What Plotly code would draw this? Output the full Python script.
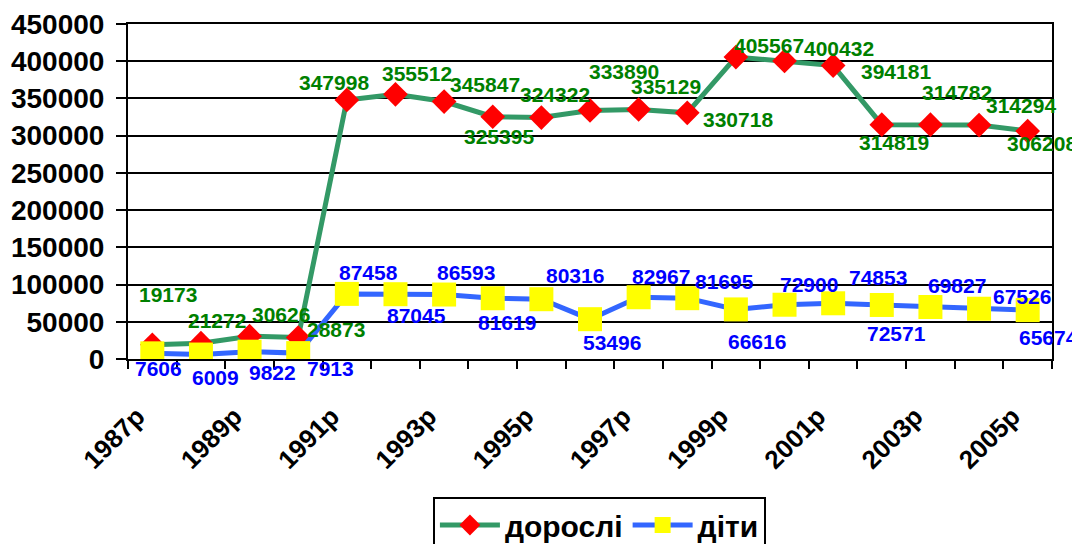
import plotly.graph_objects as go

years = list(range(1987, 2006))
adults = [19173, 21272, 30626, 28873, 347998, 355512, 345847, 325395, 324322, 333890,
          335129, 330718, 405567, 400432, 394181, 314819, 314782, 314294, 306208]
children = [7606, 6009, 9822, 7913, 87458, 87045, 86593, 81619, 80316, 53496,
            82967, 81695, 66616, 72900, 74853, 72571, 69827, 67526, 65674]
tick_years = list(range(1987, 2006, 2))
tick_text = [f"{y}р" for y in tick_years]
name_adults = "дорослі"
name_children = "діти"

# label pixel offsets (dx, dy downwards) relative to each point
adult_off = [(16, -50), (16, -23), (31, -22), (38, -8), (-13, -17), (22, -21), (41, -17),
             (6, 20), (14, -23), (34, -39), (27, -23), (51, 7), (33, -12), (54, -12),
             (63, 6), (12, 18), (27, -32), (42, -20), (14, 12)]
child_off = [(6, 15), (15, 23), (23, 21), (32, 15), (22, -21), (21, 21), (22, -22),
             (14, 24), (34, -24), (22, 23), (22, -21), (37, -17), (21, 32), (24, -20),
             (45, -26), (15, 29), (27, -22), (43, -12), (21, 27)]

FONT = "Arial, 'Liberation Sans', sans-serif"

fig = go.Figure()
fig.add_trace(go.Scatter(
    x=years, y=adults, name=name_adults, mode="lines+markers",
    line=dict(color="#339966", width=5),
    marker=dict(symbol="diamond", size=19, color="#FF0000"),
))
fig.add_trace(go.Scatter(
    x=years, y=children, name=name_children, mode="lines+markers",
    line=dict(color="#3366FF", width=5),
    marker=dict(symbol="square", size=24, color="#FFFF00"),
))

annotations = []
for x, v, (dx, dy) in zip(years, adults, adult_off):
    annotations.append(dict(x=x, y=v, text=str(v), showarrow=False, xshift=dx, yshift=-dy,
                            xanchor="center", yanchor="middle",
                            font=dict(family=FONT, size=21, color="#008000", weight="bold")))
for x, v, (dx, dy) in zip(years, children, child_off):
    annotations.append(dict(x=x, y=v, text=str(v), showarrow=False, xshift=dx, yshift=-dy,
                            xanchor="center", yanchor="middle",
                            font=dict(family=FONT, size=21, color="#0000FF", weight="bold")))

fig.update_layout(
    width=1080, height=544,
    margin=dict(l=120, r=36, t=16, b=193, autoexpand=False),
    paper_bgcolor="white", plot_bgcolor="white",
    font=dict(family=FONT, color="black"),
    annotations=annotations,
    showlegend=True,
    legend=dict(orientation="h", x=0.33, xanchor="left", y=-0.412, yanchor="top",
                bordercolor="black", borderwidth=2, bgcolor="white",
                itemwidth=60,
                font=dict(family=FONT, size=30, color="black", weight="bold")),
    xaxis=dict(
        range=[1986.5, 2005.5], tickmode="array", tickvals=tick_years, ticktext=tick_text,
        tickangle=-45, ticks="outside", ticklen=0, showgrid=False, zeroline=False,
        showline=True, linecolor="black", linewidth=2, mirror=True, automargin=False,
        tickfont=dict(family=FONT, size=26, color="black", weight="bold"),
        ticklabelstandoff=30, ticklabelshift=-15,
        minor=dict(tickvals=[1986.5 + i for i in range(20)], ticks="outside", ticklen=8,
                   tickcolor="black", tickwidth=1.5, showgrid=False),
    ),
    yaxis=dict(
        range=[0, 450000], dtick=50000, tickformat="d", ticks="outside", ticklen=10,
        tickcolor="black", tickwidth=1.5, showgrid=True, gridcolor="black", gridwidth=1.5,
        zeroline=False, showline=True, linecolor="black", linewidth=2, mirror=True,
        automargin=False, ticklabelstandoff=6,
        tickfont=dict(family=FONT, size=28, color="black", weight="bold"),
    ),
)

fig.write_html("out.html")
